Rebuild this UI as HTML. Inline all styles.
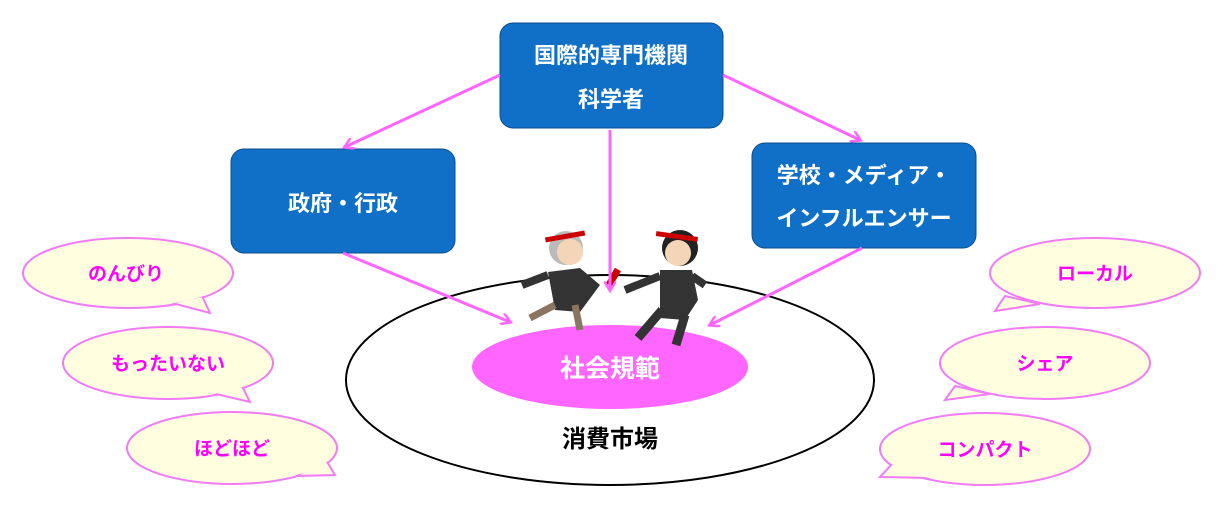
<!DOCTYPE html>
<html><head><meta charset="utf-8"><style>
body{margin:0;background:#fff}
svg text{font-family:"Liberation Sans","Noto Sans CJK JP",sans-serif;font-weight:bold}
</style></head><body>
<svg width="1220" height="524" viewBox="0 0 1220 524" xmlns="http://www.w3.org/2000/svg">
<defs><marker id="a" markerWidth="12" markerHeight="12" refX="9" refY="6" orient="auto" markerUnits="userSpaceOnUse">
<path d="M0,0 L10,6 L0,12" fill="none" stroke="#ff66ff" stroke-width="2.5"/></marker></defs>
<ellipse cx="610" cy="380" rx="264" ry="105" fill="#fff" stroke="#000" stroke-width="2"/>
<ellipse cx="610" cy="367" rx="138" ry="42" fill="#ff66ff"/>
<text x="610" y="377" font-size="25" fill="#fff" text-anchor="middle" font-weight="normal">社会規範</text>
<text x="610" y="447" font-size="24" fill="#000" text-anchor="middle">消費市場</text>
<g fill="#1070c8" stroke="#0b4d8c" stroke-width="1">
<rect x="500" y="23" width="223" height="105" rx="13"/>
<rect x="231" y="149" width="224" height="104" rx="13"/>
<rect x="752" y="143" width="224" height="105" rx="13"/>
</g>
<g fill="#fff" font-size="22" text-anchor="middle">
<text x="611" y="63">国際的専門機関</text><text x="611" y="107">科学者</text>
<text x="343" y="211">政府・行政</text>
<text x="864" y="183">学校・メディア・</text><text x="864" y="226">インフルエンサー</text>
</g>
<!-- runners -->
<g>
<circle cx="566" cy="248" r="17" fill="#bbb"/><circle cx="570" cy="252" r="13" fill="#f5d5b8"/>
<rect x="545" y="234" width="40" height="5" fill="#c00" transform="rotate(-10 565 236)"/>
<path d="M548,272 L580,268 L600,285 L580,312 L555,310 Z" fill="#333"/>
<path d="M555,305 L530,318 M575,305 L580,330" stroke="#8a7560" stroke-width="7"/>
<path d="M548,275 L522,285" stroke="#333" stroke-width="8"/>
<rect x="610" y="268" width="7" height="18" fill="#c00" transform="rotate(30 613 277)"/>
<circle cx="680" cy="248" r="18" fill="#222"/><circle cx="678" cy="253" r="13" fill="#f5d5b8"/>
<rect x="656" y="234" width="42" height="5" fill="#c00" transform="rotate(8 677 236)"/>
<path d="M660,270 L692,270 L698,300 L685,320 L660,318 Z" fill="#333"/>
<path d="M662,310 L638,338 M685,315 L676,345" stroke="#333" stroke-width="9"/>
<path d="M660,276 L625,290 M692,276 L705,285" stroke="#333" stroke-width="8"/>
</g>
<g stroke="#ff66ff" stroke-width="3" fill="none" marker-end="url(#a)">
<line x1="500" y1="75" x2="345" y2="147"/>
<line x1="723" y1="75" x2="860" y2="140"/>
<line x1="610" y1="130" x2="610" y2="290"/>
<line x1="343" y1="253" x2="510" y2="322"/>
<line x1="862" y1="248" x2="710" y2="325"/>
</g>
<!-- bubbles -->
<g fill="#ffffe0" stroke="#f17cf5" stroke-width="2">
<ellipse cx="128" cy="273" rx="105" ry="35"/><polygon points="172,303 210,313 202,296"/>
<ellipse cx="168" cy="363" rx="105" ry="36"/><polygon points="212,393 250,402 242,386"/>
<ellipse cx="232" cy="448" rx="105" ry="36"/><polygon points="296,476 335,475 326,460"/>
<ellipse cx="1095" cy="273" rx="105" ry="35"/><polygon points="1040,304 995,311 1005,296"/>
<ellipse cx="1045" cy="363" rx="105" ry="36"/><polygon points="990,394 945,400 955,386"/>
<ellipse cx="985" cy="449" rx="105" ry="36"/><polygon points="930,478 880,477 893,463"/>
</g>
<g fill="#ffffe0">
<ellipse cx="128" cy="273" rx="103.5" ry="33.5"/>
<ellipse cx="168" cy="363" rx="103.5" ry="34.5"/>
<ellipse cx="232" cy="448" rx="103.5" ry="34.5"/>
<ellipse cx="1095" cy="273" rx="103.5" ry="33.5"/>
<ellipse cx="1045" cy="363" rx="103.5" ry="34.5"/>
<ellipse cx="985" cy="449" rx="103.5" ry="34.5"/>
</g>
<g fill="#ff00ff" font-size="19" text-anchor="middle">
<text x="126" y="280">のんびり</text>
<text x="168" y="370">もったいない</text>
<text x="232" y="455">ほどほど</text>
<text x="1095" y="280">ローカル</text>
<text x="1045" y="370">シェア</text>
<text x="985" y="456">コンパクト</text>
</g>
</svg>
</body></html>
